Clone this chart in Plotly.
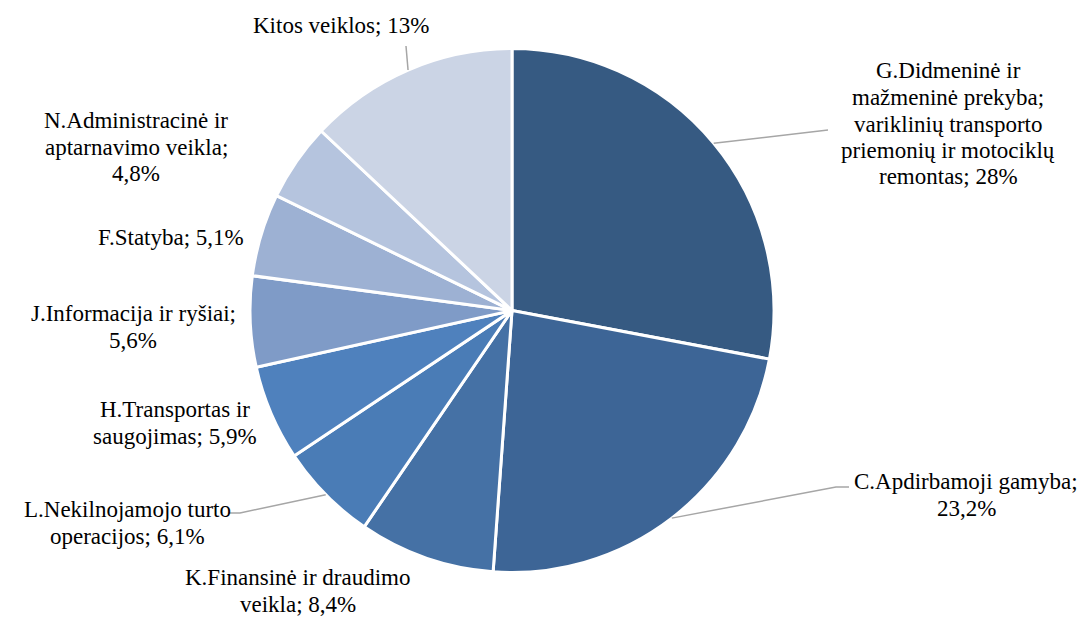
import math
import plotly.graph_objects as go

W, H = 1089, 617

categories = [
    "G.Didmeninė ir mažmeninė prekyba; variklinių transporto priemonių ir motociklų remontas",
    "C.Apdirbamoji gamyba",
    "K.Finansinė ir draudimo veikla",
    "L.Nekilnojamojo turto operacijos",
    "H.Transportas ir saugojimas",
    "J.Informacija ir ryšiai",
    "F.Statyba",
    "N.Administracinė ir aptarnavimo veikla",
    "Kitos veiklos",
]
values = [28, 23.2, 8.4, 6.1, 5.9, 5.6, 5.1, 4.8, 13]
value_labels = ["28%", "23,2%", "8,4%", "6,1%", "5,9%", "5,6%", "5,1%", "4,8%", "13%"]
label_lines = [
    ["G.Didmeninė ir", "mažmeninė prekyba;", "variklinių transporto", "priemonių ir motociklų", "remontas; 28%"],
    ["C.Apdirbamoji gamyba;", "23,2%"],
    ["K.Finansinė ir draudimo", "veikla; 8,4%"],
    ["L.Nekilnojamojo turto", "operacijos; 6,1%"],
    ["H.Transportas ir", "saugojimas; 5,9%"],
    ["J.Informacija ir ryšiai;", "5,6%"],
    ["F.Statyba; 5,1%"],
    ["N.Administracinė ir", "aptarnavimo veikla;", "4,8%"],
    ["Kitos veiklos; 13%"],
]
colors = ["#365a82", "#3d6596", "#4571a5", "#4a7cb6", "#4f81bd",
          "#7f9bc7", "#9db1d3", "#b5c4de", "#cbd4e5"]

# layout (pixel) geometry
CX, CY, R = 512, 310.5, 262
label_centers = [(948, 124), (966, 495), (298, 591), (127, 523), (175, 423),
                 (133, 327), (171, 237), (136, 147), (341, 25)]
LINE_H = 26.5
# leader lines: (elbow, end) for slices that have one
leaders = {0: [(828, 130)], 1: [(836, 487), (849, 487)], 3: [(240, 513), (229, 513)], 8: [(406, 46)]}

def px(x):
    return x / W

def py(y):
    return 1 - y / H

fig = go.Figure(go.Pie(
    labels=categories, values=values, sort=False, direction="clockwise",
    rotation=0, textinfo="none", hoverinfo="label+percent",
    marker=dict(colors=colors, line=dict(color="white", width=3)),
    domain=dict(x=[px(CX - R), px(CX + R)], y=[py(CY + R), py(CY - R)]),
    showlegend=False,
))

annotations = []
for lines, (lx, ly) in zip(label_lines, label_centers):
    n = len(lines)
    for i, t in enumerate(lines):
        yy = ly + (i - (n - 1) / 2) * LINE_H
        annotations.append(dict(
            x=px(lx), y=py(yy), xref="paper", yref="paper", text=t,
            showarrow=False, xanchor="center", yanchor="middle",
            font=dict(family="Liberation Serif", size=23, color="#000000"),
        ))

total = sum(values)
shapes = []
cum = 0
for i, v in enumerate(values):
    mid = (cum + v / 2) / total * 2 * math.pi
    cum += v
    if i not in leaders:
        continue
    sx = CX + R * math.sin(mid)
    sy = CY - R * math.cos(mid)
    pts = [(sx, sy)] + leaders[i]
    path = "M " + " L ".join(f"{px(a):.5f},{py(b):.5f}" for a, b in pts)
    shapes.append(dict(type="path", path=path, xref="paper", yref="paper",
                       line=dict(color="#a6a6a6", width=1.5)))

fig.update_layout(
    width=W, height=H, margin=dict(l=0, r=0, t=0, b=0),
    paper_bgcolor="white", plot_bgcolor="white",
    font=dict(family="Liberation Serif"),
    annotations=annotations, shapes=shapes,
)
fig.write_html("out.html", config={"displayModeBar": False},
               post_script="document.body.style.margin='0';document.body.style.overflow='hidden';")
